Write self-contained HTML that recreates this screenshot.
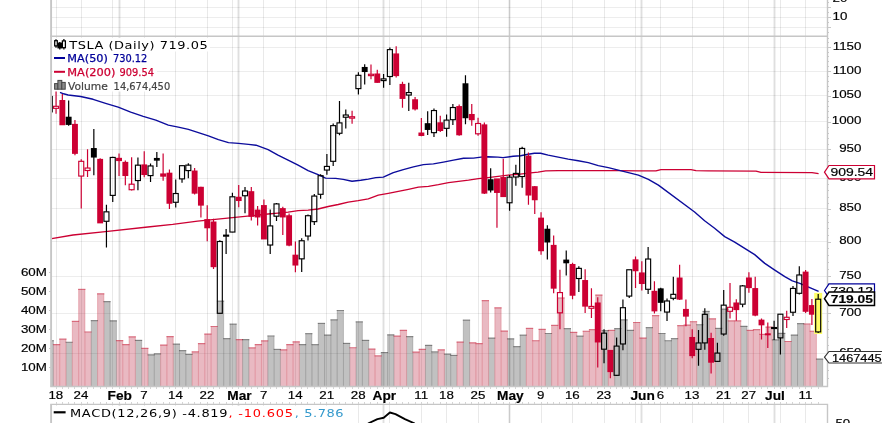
<!DOCTYPE html>
<html><head><meta charset="utf-8"><title>TSLA Daily Chart</title>
<style>html,body{margin:0;padding:0;background:#fff}svg{display:block}</style></head>
<body>
<svg width="882" height="423" viewBox="0 0 882 423">
<rect width="882" height="423" fill="#fff"/>
<path d="M56.5 0V423 M81.5 0V423 M112.5 0V423 M144.5 0V423 M175.5 0V423 M207.5 0V423 M232.5 0V423 M263.5 0V423 M295.5 0V423 M326.5 0V423 M358.5 0V423 M389.5 0V423 M421.5 0V423 M446.5 0V423 M478.5 0V423 M509.5 0V423 M541.5 0V423 M572.5 0V423 M604.5 0V423 M635.5 0V423 M660.5 0V423 M692.5 0V423 M723.5 0V423 M748.5 0V423 M780.5 0V423 M805.5 0V423" stroke="rgba(0,0,0,0.085)" stroke-width="1" fill="none" shape-rendering="crispEdges"/>
<path d="M119.5 0V423 M238.5 0V423 M383.5 0V423 M509.5 0V423 M641.5 0V423 M774.5 0V423" stroke="rgba(0,0,0,0.125)" stroke-width="1.9" fill="none"/>
<path d="M51.5 7.5H827.5 M51.5 17.5H827.5 M51.5 27.5H827.5 M51.5 47.5H827.5 M51.5 71.5H827.5 M51.5 95.5H827.5 M51.5 121.5H827.5 M51.5 149.5H827.5 M51.5 178.5H827.5 M51.5 208.5H827.5 M51.5 241.5H827.5 M51.5 276.5H827.5 M51.5 313.5H827.5 M51.5 353.5H827.5" stroke="rgba(0,0,0,0.07)" stroke-width="1" fill="none" shape-rendering="crispEdges"/>
<rect x="0" y="387" width="882" height="17" fill="#fff"/>
<rect x="0" y="0" width="51" height="423" fill="#fff"/>
<rect x="828" y="0" width="54" height="423" fill="#fff"/>
<clipPath id="cp"><rect x="51.5" y="36.5" width="776.0" height="350.0"/></clipPath>
<g clip-path="url(#cp)">
<rect x="47.10" y="340.33" width="6.30" height="46.17" fill="rgba(0,0,0,0.245)"/>
<rect x="53.40" y="344.13" width="6.31" height="42.37" fill="rgba(182,22,52,0.3)"/>
<rect x="59.71" y="338.81" width="6.31" height="47.69" fill="rgba(182,22,52,0.3)"/>
<rect x="66.01" y="341.85" width="6.31" height="44.65" fill="rgba(0,0,0,0.245)"/>
<rect x="72.32" y="320.95" width="6.31" height="65.55" fill="rgba(182,22,52,0.3)"/>
<rect x="78.63" y="289.03" width="6.31" height="97.47" fill="rgba(182,22,52,0.3)"/>
<rect x="84.93" y="331.59" width="6.31" height="54.91" fill="rgba(182,22,52,0.3)"/>
<rect x="91.24" y="320.19" width="6.31" height="66.31" fill="rgba(0,0,0,0.245)"/>
<rect x="97.54" y="293.40" width="6.31" height="93.10" fill="rgba(182,22,52,0.3)"/>
<rect x="103.85" y="301.19" width="6.31" height="85.31" fill="rgba(0,0,0,0.245)"/>
<rect x="110.16" y="320.38" width="6.31" height="66.12" fill="rgba(0,0,0,0.245)"/>
<rect x="116.46" y="340.14" width="6.31" height="46.36" fill="rgba(182,22,52,0.3)"/>
<rect x="122.77" y="344.13" width="6.31" height="42.37" fill="rgba(182,22,52,0.3)"/>
<rect x="129.07" y="336.53" width="6.31" height="49.97" fill="rgba(182,22,52,0.3)"/>
<rect x="135.38" y="339.95" width="6.31" height="46.55" fill="rgba(0,0,0,0.245)"/>
<rect x="141.69" y="347.93" width="6.31" height="38.57" fill="rgba(182,22,52,0.3)"/>
<rect x="147.99" y="354.39" width="6.31" height="32.11" fill="rgba(0,0,0,0.245)"/>
<rect x="154.30" y="353.44" width="6.31" height="33.06" fill="rgba(0,0,0,0.245)"/>
<rect x="160.60" y="344.70" width="6.31" height="41.80" fill="rgba(182,22,52,0.3)"/>
<rect x="166.91" y="336.15" width="6.31" height="50.35" fill="rgba(182,22,52,0.3)"/>
<rect x="173.22" y="343.75" width="6.31" height="42.75" fill="rgba(0,0,0,0.245)"/>
<rect x="179.52" y="350.21" width="6.31" height="36.29" fill="rgba(0,0,0,0.245)"/>
<rect x="185.83" y="354.01" width="6.31" height="32.49" fill="rgba(0,0,0,0.245)"/>
<rect x="192.14" y="351.54" width="6.31" height="34.96" fill="rgba(182,22,52,0.3)"/>
<rect x="198.44" y="343.18" width="6.31" height="43.32" fill="rgba(182,22,52,0.3)"/>
<rect x="204.75" y="333.68" width="6.31" height="52.82" fill="rgba(182,22,52,0.3)"/>
<rect x="211.05" y="326.08" width="6.31" height="60.42" fill="rgba(182,22,52,0.3)"/>
<rect x="217.36" y="300.81" width="6.31" height="85.69" fill="rgba(0,0,0,0.245)"/>
<rect x="223.67" y="338.24" width="6.31" height="48.26" fill="rgba(0,0,0,0.245)"/>
<rect x="229.97" y="323.80" width="6.31" height="62.70" fill="rgba(0,0,0,0.245)"/>
<rect x="236.28" y="339.19" width="6.31" height="47.31" fill="rgba(182,22,52,0.3)"/>
<rect x="242.58" y="339.19" width="6.31" height="47.31" fill="rgba(0,0,0,0.245)"/>
<rect x="248.89" y="347.55" width="6.31" height="38.95" fill="rgba(182,22,52,0.3)"/>
<rect x="255.20" y="344.13" width="6.31" height="42.37" fill="rgba(182,22,52,0.3)"/>
<rect x="261.50" y="340.52" width="6.31" height="45.98" fill="rgba(182,22,52,0.3)"/>
<rect x="267.81" y="335.58" width="6.31" height="50.92" fill="rgba(0,0,0,0.245)"/>
<rect x="274.12" y="349.07" width="6.31" height="37.43" fill="rgba(0,0,0,0.245)"/>
<rect x="280.42" y="349.45" width="6.31" height="37.05" fill="rgba(182,22,52,0.3)"/>
<rect x="286.73" y="344.13" width="6.31" height="42.37" fill="rgba(182,22,52,0.3)"/>
<rect x="293.03" y="341.47" width="6.31" height="45.03" fill="rgba(182,22,52,0.3)"/>
<rect x="299.34" y="344.13" width="6.31" height="42.37" fill="rgba(0,0,0,0.245)"/>
<rect x="305.65" y="333.30" width="6.31" height="53.20" fill="rgba(0,0,0,0.245)"/>
<rect x="311.95" y="344.32" width="6.31" height="42.18" fill="rgba(0,0,0,0.245)"/>
<rect x="318.26" y="323.04" width="6.31" height="63.46" fill="rgba(0,0,0,0.245)"/>
<rect x="324.56" y="334.63" width="6.31" height="51.87" fill="rgba(0,0,0,0.245)"/>
<rect x="330.87" y="319.43" width="6.31" height="67.07" fill="rgba(0,0,0,0.245)"/>
<rect x="337.18" y="310.12" width="6.31" height="76.38" fill="rgba(0,0,0,0.245)"/>
<rect x="343.48" y="342.99" width="6.31" height="43.51" fill="rgba(0,0,0,0.245)"/>
<rect x="349.79" y="347.36" width="6.31" height="39.14" fill="rgba(182,22,52,0.3)"/>
<rect x="356.10" y="321.52" width="6.31" height="64.98" fill="rgba(0,0,0,0.245)"/>
<rect x="362.40" y="339.95" width="6.31" height="46.55" fill="rgba(0,0,0,0.245)"/>
<rect x="368.71" y="348.69" width="6.31" height="37.81" fill="rgba(182,22,52,0.3)"/>
<rect x="375.01" y="355.53" width="6.31" height="30.97" fill="rgba(182,22,52,0.3)"/>
<rect x="381.32" y="352.11" width="6.31" height="34.39" fill="rgba(0,0,0,0.245)"/>
<rect x="387.63" y="334.44" width="6.31" height="52.06" fill="rgba(0,0,0,0.245)"/>
<rect x="393.93" y="335.77" width="6.31" height="50.73" fill="rgba(182,22,52,0.3)"/>
<rect x="400.24" y="329.88" width="6.31" height="56.62" fill="rgba(182,22,52,0.3)"/>
<rect x="406.54" y="336.15" width="6.31" height="50.35" fill="rgba(0,0,0,0.245)"/>
<rect x="412.85" y="351.73" width="6.31" height="34.77" fill="rgba(182,22,52,0.3)"/>
<rect x="419.16" y="348.88" width="6.31" height="37.62" fill="rgba(182,22,52,0.3)"/>
<rect x="425.46" y="344.89" width="6.31" height="41.61" fill="rgba(0,0,0,0.245)"/>
<rect x="431.77" y="351.54" width="6.31" height="34.96" fill="rgba(0,0,0,0.245)"/>
<rect x="438.08" y="349.45" width="6.31" height="37.05" fill="rgba(182,22,52,0.3)"/>
<rect x="444.38" y="353.82" width="6.31" height="32.68" fill="rgba(0,0,0,0.245)"/>
<rect x="450.69" y="354.96" width="6.31" height="31.54" fill="rgba(0,0,0,0.245)"/>
<rect x="456.99" y="341.66" width="6.31" height="44.84" fill="rgba(182,22,52,0.3)"/>
<rect x="463.30" y="319.81" width="6.31" height="66.69" fill="rgba(0,0,0,0.245)"/>
<rect x="469.61" y="342.42" width="6.31" height="44.08" fill="rgba(182,22,52,0.3)"/>
<rect x="475.91" y="343.18" width="6.31" height="43.32" fill="rgba(182,22,52,0.3)"/>
<rect x="482.22" y="300.24" width="6.31" height="86.26" fill="rgba(182,22,52,0.3)"/>
<rect x="488.52" y="337.67" width="6.31" height="48.83" fill="rgba(0,0,0,0.245)"/>
<rect x="494.83" y="307.46" width="6.31" height="79.04" fill="rgba(182,22,52,0.3)"/>
<rect x="501.14" y="330.64" width="6.31" height="55.86" fill="rgba(182,22,52,0.3)"/>
<rect x="507.44" y="338.43" width="6.31" height="48.07" fill="rgba(0,0,0,0.245)"/>
<rect x="513.75" y="346.22" width="6.31" height="40.28" fill="rgba(0,0,0,0.245)"/>
<rect x="520.05" y="334.82" width="6.31" height="51.68" fill="rgba(0,0,0,0.245)"/>
<rect x="526.36" y="327.98" width="6.31" height="58.52" fill="rgba(182,22,52,0.3)"/>
<rect x="532.67" y="340.33" width="6.31" height="46.17" fill="rgba(182,22,52,0.3)"/>
<rect x="538.97" y="328.93" width="6.31" height="57.57" fill="rgba(182,22,52,0.3)"/>
<rect x="545.28" y="333.11" width="6.31" height="53.39" fill="rgba(0,0,0,0.245)"/>
<rect x="551.59" y="324.94" width="6.31" height="61.56" fill="rgba(182,22,52,0.3)"/>
<rect x="557.89" y="297.58" width="6.31" height="88.92" fill="rgba(182,22,52,0.3)"/>
<rect x="564.20" y="328.17" width="6.31" height="58.33" fill="rgba(0,0,0,0.245)"/>
<rect x="570.50" y="331.97" width="6.31" height="54.53" fill="rgba(182,22,52,0.3)"/>
<rect x="576.81" y="335.77" width="6.31" height="50.73" fill="rgba(0,0,0,0.245)"/>
<rect x="583.12" y="330.83" width="6.31" height="55.67" fill="rgba(182,22,52,0.3)"/>
<rect x="589.42" y="329.31" width="6.31" height="57.19" fill="rgba(182,22,52,0.3)"/>
<rect x="595.73" y="294.73" width="6.31" height="91.77" fill="rgba(182,22,52,0.3)"/>
<rect x="602.03" y="330.26" width="6.31" height="56.24" fill="rgba(0,0,0,0.245)"/>
<rect x="608.34" y="330.07" width="6.31" height="56.43" fill="rgba(182,22,52,0.3)"/>
<rect x="614.65" y="328.17" width="6.31" height="58.33" fill="rgba(0,0,0,0.245)"/>
<rect x="620.95" y="319.43" width="6.31" height="67.07" fill="rgba(0,0,0,0.245)"/>
<rect x="627.26" y="329.88" width="6.31" height="56.62" fill="rgba(0,0,0,0.245)"/>
<rect x="633.57" y="322.09" width="6.31" height="64.41" fill="rgba(182,22,52,0.3)"/>
<rect x="639.87" y="337.67" width="6.31" height="48.83" fill="rgba(182,22,52,0.3)"/>
<rect x="646.18" y="327.22" width="6.31" height="59.28" fill="rgba(0,0,0,0.245)"/>
<rect x="652.48" y="315.25" width="6.31" height="71.25" fill="rgba(182,22,52,0.3)"/>
<rect x="658.79" y="333.11" width="6.31" height="53.39" fill="rgba(0,0,0,0.245)"/>
<rect x="665.10" y="340.33" width="6.31" height="46.17" fill="rgba(0,0,0,0.245)"/>
<rect x="671.40" y="338.24" width="6.31" height="48.26" fill="rgba(0,0,0,0.245)"/>
<rect x="677.71" y="325.32" width="6.31" height="61.18" fill="rgba(182,22,52,0.3)"/>
<rect x="684.01" y="324.75" width="6.31" height="61.75" fill="rgba(182,22,52,0.3)"/>
<rect x="690.32" y="321.33" width="6.31" height="65.17" fill="rgba(182,22,52,0.3)"/>
<rect x="696.63" y="324.37" width="6.31" height="62.13" fill="rgba(0,0,0,0.245)"/>
<rect x="702.93" y="311.07" width="6.31" height="75.43" fill="rgba(0,0,0,0.245)"/>
<rect x="709.24" y="318.48" width="6.31" height="68.02" fill="rgba(182,22,52,0.3)"/>
<rect x="715.55" y="327.98" width="6.31" height="58.52" fill="rgba(0,0,0,0.245)"/>
<rect x="721.85" y="308.79" width="6.31" height="77.71" fill="rgba(0,0,0,0.245)"/>
<rect x="728.16" y="320.57" width="6.31" height="65.93" fill="rgba(182,22,52,0.3)"/>
<rect x="734.46" y="320.57" width="6.31" height="65.93" fill="rgba(182,22,52,0.3)"/>
<rect x="740.77" y="325.89" width="6.31" height="60.61" fill="rgba(0,0,0,0.245)"/>
<rect x="747.08" y="330.07" width="6.31" height="56.43" fill="rgba(182,22,52,0.3)"/>
<rect x="753.38" y="329.31" width="6.31" height="57.19" fill="rgba(182,22,52,0.3)"/>
<rect x="759.69" y="334.06" width="6.31" height="52.44" fill="rgba(182,22,52,0.3)"/>
<rect x="765.99" y="326.65" width="6.31" height="59.85" fill="rgba(182,22,52,0.3)"/>
<rect x="772.30" y="339.38" width="6.31" height="47.12" fill="rgba(0,0,0,0.245)"/>
<rect x="778.61" y="332.92" width="6.31" height="53.58" fill="rgba(0,0,0,0.245)"/>
<rect x="784.91" y="341.09" width="6.31" height="45.41" fill="rgba(182,22,52,0.3)"/>
<rect x="791.22" y="334.63" width="6.31" height="51.87" fill="rgba(0,0,0,0.245)"/>
<rect x="797.52" y="323.23" width="6.31" height="63.27" fill="rgba(0,0,0,0.245)"/>
<rect x="803.83" y="323.61" width="6.31" height="62.89" fill="rgba(182,22,52,0.3)"/>
<rect x="810.14" y="330.83" width="6.31" height="55.67" fill="rgba(182,22,52,0.3)"/>
<rect x="816.44" y="358.63" width="6.30" height="27.87" fill="rgba(0,0,0,0.245)"/>
<path d="M59.71 338.81V386.5 M66.01 338.81V386.5 M72.32 320.95V386.5 M78.63 289.03V386.5 M84.93 289.03V386.5 M97.54 293.40V386.5 M103.85 293.40V386.5 M122.77 340.14V386.5 M129.07 336.53V386.5 M135.38 336.53V386.5 M147.99 347.93V386.5 M160.60 344.70V386.5 M166.91 336.15V386.5 M173.22 336.15V386.5 M192.14 351.54V386.5 M198.44 343.18V386.5 M204.75 333.68V386.5 M211.05 326.08V386.5 M255.20 344.13V386.5 M261.50 340.52V386.5 M286.73 344.13V386.5 M293.03 341.47V386.5 M299.34 341.47V386.5 M375.01 348.69V386.5 M400.24 329.88V386.5 M406.54 329.88V386.5 M419.16 348.88V386.5 M438.08 349.45V386.5 M444.38 349.45V386.5 M456.99 341.66V386.5 M475.91 342.42V386.5 M482.22 300.24V386.5 M488.52 300.24V386.5 M494.83 307.46V386.5 M501.14 307.46V386.5 M507.44 330.64V386.5 M526.36 327.98V386.5 M532.67 327.98V386.5 M538.97 328.93V386.5 M545.28 328.93V386.5 M551.59 324.94V386.5 M557.89 297.58V386.5 M564.20 297.58V386.5 M576.81 331.97V386.5 M583.12 330.83V386.5 M589.42 329.31V386.5 M595.73 294.73V386.5 M602.03 294.73V386.5 M608.34 330.07V386.5 M633.57 322.09V386.5 M639.87 322.09V386.5 M652.48 315.25V386.5 M658.79 315.25V386.5 M677.71 325.32V386.5 M684.01 324.75V386.5 M690.32 321.33V386.5 M696.63 321.33V386.5 M715.55 318.48V386.5 M734.46 320.57V386.5 M740.77 320.57V386.5 M753.38 329.31V386.5 M759.69 329.31V386.5 M765.99 326.65V386.5 M772.30 326.65V386.5 M810.14 323.61V386.5 M816.44 330.83V386.5" stroke="rgba(200,40,60,0.24)" stroke-width="1.1" fill="none"/>
<path d="M47.10 340.33V386.5 M53.40 340.33V386.5 M91.24 320.19V386.5 M110.16 301.19V386.5 M116.46 320.38V386.5 M141.69 339.95V386.5 M154.30 353.44V386.5 M179.52 343.75V386.5 M185.83 350.21V386.5 M217.36 300.81V386.5 M223.67 300.81V386.5 M229.97 323.80V386.5 M236.28 323.80V386.5 M242.58 339.19V386.5 M248.89 339.19V386.5 M267.81 335.58V386.5 M274.12 335.58V386.5 M280.42 349.07V386.5 M305.65 333.30V386.5 M311.95 333.30V386.5 M318.26 323.04V386.5 M324.56 323.04V386.5 M330.87 319.43V386.5 M337.18 310.12V386.5 M343.48 310.12V386.5 M349.79 342.99V386.5 M356.10 321.52V386.5 M362.40 321.52V386.5 M368.71 339.95V386.5 M381.32 352.11V386.5 M387.63 334.44V386.5 M393.93 334.44V386.5 M412.85 336.15V386.5 M425.46 344.89V386.5 M431.77 344.89V386.5 M450.69 353.82V386.5 M463.30 319.81V386.5 M469.61 319.81V386.5 M513.75 338.43V386.5 M520.05 334.82V386.5 M570.50 328.17V386.5 M614.65 328.17V386.5 M620.95 319.43V386.5 M627.26 319.43V386.5 M646.18 327.22V386.5 M665.10 333.11V386.5 M671.40 338.24V386.5 M702.93 311.07V386.5 M709.24 311.07V386.5 M721.85 308.79V386.5 M728.16 308.79V386.5 M747.08 325.89V386.5 M778.61 332.92V386.5 M784.91 332.92V386.5 M791.22 334.63V386.5 M797.52 323.23V386.5 M803.83 323.23V386.5 M822.74 358.63V386.5" stroke="rgba(0,0,0,0.16)" stroke-width="1.1" fill="none"/>
<path d="M52.90 344.53H60.21 M59.21 339.21H66.51 M71.82 321.35H79.13 M78.13 289.43H85.43 M84.43 331.99H91.74 M97.04 293.80H104.35 M115.96 340.54H123.27 M122.27 344.53H129.57 M128.57 336.93H135.88 M141.19 348.33H148.49 M160.10 345.10H167.41 M166.41 336.55H173.72 M191.64 351.94H198.94 M197.94 343.58H205.25 M204.25 334.08H211.55 M210.55 326.48H217.86 M235.78 339.59H243.08 M248.39 347.95H255.70 M254.70 344.53H262.00 M261.00 340.92H268.31 M279.92 349.85H287.23 M286.23 344.53H293.53 M292.53 341.87H299.84 M349.29 347.76H356.60 M368.21 349.09H375.51 M374.51 355.93H381.82 M393.43 336.17H400.74 M399.74 330.28H407.04 M412.35 352.13H419.66 M418.66 349.28H425.96 M437.58 349.85H444.88 M456.49 342.06H463.80 M469.11 342.82H476.41 M475.41 343.58H482.72 M481.72 300.64H489.02 M494.33 307.86H501.64 M500.64 331.04H507.94 M525.86 328.38H533.17 M532.17 340.73H539.47 M538.47 329.33H545.78 M551.09 325.34H558.39 M557.39 297.98H564.70 M570.00 332.37H577.31 M582.62 331.23H589.92 M588.92 329.71H596.23 M595.23 295.13H602.53 M607.84 330.47H615.15 M633.07 322.49H640.37 M639.37 338.07H646.68 M651.98 315.65H659.29 M677.21 325.72H684.51 M683.51 325.15H690.82 M689.82 321.73H697.13 M708.74 318.88H716.05 M727.66 320.97H734.96 M733.96 320.97H741.27 M746.58 330.47H753.88 M752.88 329.71H760.19 M759.19 334.46H766.49 M765.49 327.05H772.80 M784.41 341.49H791.72 M803.33 324.01H810.64 M809.64 331.23H816.94" stroke="rgba(200,30,55,0.5)" stroke-width="1.2" fill="none"/>
<path d="M46.60 340.73H53.90 M65.51 342.25H72.82 M90.74 320.59H98.04 M103.35 301.59H110.66 M109.66 320.78H116.96 M134.88 340.35H142.19 M147.49 354.79H154.80 M153.80 353.84H161.10 M172.72 344.15H180.02 M179.02 350.61H186.33 M185.33 354.41H192.64 M216.86 301.21H224.17 M223.17 338.64H230.47 M229.47 324.20H236.78 M242.08 339.59H249.39 M267.31 335.98H274.62 M273.62 349.47H280.92 M298.84 344.53H306.15 M305.15 333.70H312.45 M311.45 344.72H318.76 M317.76 323.44H325.06 M324.06 335.03H331.37 M330.37 319.83H337.68 M336.68 310.52H343.98 M342.98 343.39H350.29 M355.60 321.92H362.90 M361.90 340.35H369.21 M380.82 352.51H388.13 M387.13 334.84H394.43 M406.04 336.55H413.35 M424.96 345.29H432.27 M431.27 351.94H438.58 M443.88 354.22H451.19 M450.19 355.36H457.49 M462.80 320.21H470.11 M488.02 338.07H495.33 M506.94 338.83H514.25 M513.25 346.62H520.55 M519.55 335.22H526.86 M544.78 333.51H552.09 M563.70 328.57H571.00 M576.31 336.17H583.62 M601.53 330.66H608.84 M614.15 328.57H621.45 M620.45 319.83H627.76 M626.76 330.28H634.07 M645.68 327.62H652.98 M658.29 333.51H665.60 M664.60 340.73H671.90 M670.90 338.64H678.21 M696.13 324.77H703.43 M702.43 311.47H709.74 M715.05 328.38H722.35 M721.35 309.19H728.66 M740.27 326.29H747.58 M771.80 339.78H779.11 M778.11 333.32H785.41 M790.72 335.03H798.02 M797.02 323.63H804.33 M815.94 359.03H823.24" stroke="rgba(0,0,0,0.33)" stroke-width="1.2" fill="none"/>
</g>
<path d="M51.7 238.6 L73.0 235.0 L105.4 231.7 L147.8 227.0 L172.7 224.4 L197.6 221.2 L222.6 218.7 L247.5 216.2 L268.0 214.0 L278.0 213.2 L288.1 212.2 L298.1 210.7 L308.1 210.2 L318.1 209.0 L328.2 206.5 L338.2 204.5 L348.2 202.2 L358.2 200.7 L368.3 198.9 L378.3 195.2 L388.3 193.4 L398.3 191.4 L408.4 189.4 L418.4 187.2 L428.4 186.4 L438.4 184.7 L448.5 182.7 L458.5 181.4 L468.5 180.2 L478.5 178.6 L483.5 178.1 L488.0 177.6 L498.0 176.4 L508.1 175.1 L518.1 174.4 L528.1 173.1 L538.1 172.1 L545.6 170.9 L558.2 170.6 L588.3 170.6 L618.3 170.6 L638.4 170.9 L655.9 170.9 L660.9 169.6 L676.0 169.6 L691.0 169.6 L696.0 170.6 L708.1 170.9 L756.0 171.2 L761.0 172.4 L812.0 172.6 L818.6 173.6" stroke="#cc0033" stroke-width="1.3" fill="none" stroke-linejoin="round"/>
<path d="M60.0 92.3 L63.5 93.8 L68.1 95.0 L80.6 96.5 L93.1 99.3 L105.6 103.3 L118.2 107.1 L130.7 112.1 L143.2 116.3 L155.8 120.1 L168.3 125.1 L178.3 127.1 L188.4 129.4 L198.4 132.6 L208.4 135.9 L218.4 139.6 L228.5 142.6 L238.5 143.4 L248.5 144.4 L256.0 145.2 L268.1 149.7 L278.0 155.1 L288.1 160.1 L298.1 165.1 L308.1 170.6 L318.1 174.6 L325.6 178.1 L335.7 178.4 L343.2 179.4 L352.0 181.2 L360.7 180.2 L368.3 179.1 L375.8 177.6 L383.3 177.1 L393.3 172.6 L403.3 169.6 L413.4 166.9 L423.4 164.6 L433.4 163.9 L443.4 162.1 L453.5 160.1 L463.5 158.3 L473.5 158.1 L481.0 157.1 L488.0 156.8 L498.0 157.1 L503.0 157.6 L513.1 156.3 L520.6 155.8 L528.1 154.3 L534.4 153.3 L540.6 153.3 L548.2 155.1 L558.2 157.1 L568.2 159.1 L578.2 160.8 L588.3 162.6 L598.3 165.6 L608.3 167.6 L618.3 170.1 L628.4 172.6 L638.4 175.1 L648.4 179.4 L658.4 185.1 L694.6 212.0 L704.6 220.8 L714.6 228.3 L724.7 236.6 L734.7 242.1 L744.7 248.3 L754.7 254.6 L764.8 263.4 L774.8 270.1 L784.8 276.7 L792.3 280.9 L799.8 283.4 L807.4 286.7 L818.6 291.4" stroke="#0c0c9c" stroke-width="1.4" fill="none" stroke-linejoin="round"/>
<g clip-path="url(#cp)">
<path d="M49.75 95.24V96.46M49.75 111.86V115.29" stroke="#000000" stroke-width="1.2"/>
<rect x="47.25" y="96.46" width="5" height="15.40" fill="none" stroke="#000000" stroke-width="1.15"/>
<path d="M56.05 85.75V106.30M56.05 108.34V113.87" stroke="#cc0033" stroke-width="1.2"/>
<rect x="53.55" y="106.30" width="5" height="2.03" fill="none" stroke="#cc0033" stroke-width="1.15"/>
<path d="M62.35 93.88V125.10" stroke="#cc0033" stroke-width="1.2"/>
<rect x="59.40" y="100.01" width="5.9" height="25.24" fill="#cc0033"/>
<path d="M68.65 100.54V125.64" stroke="#000000" stroke-width="1.2"/>
<rect x="65.70" y="116.72" width="5.9" height="8.19" fill="#000000"/>
<path d="M74.95 119.98V155.29" stroke="#cc0033" stroke-width="1.2"/>
<rect x="72.00" y="123.88" width="5.9" height="29.98" fill="#cc0033"/>
<path d="M81.24 159.29V161.31M81.24 176.06V208.60" stroke="#cc0033" stroke-width="1.2"/>
<rect x="78.74" y="161.31" width="5" height="14.75" fill="none" stroke="#cc0033" stroke-width="1.15"/>
<path d="M87.54 149.20V168.04M87.54 170.49V176.98" stroke="#cc0033" stroke-width="1.2"/>
<rect x="85.04" y="168.04" width="5" height="2.46" fill="none" stroke="#cc0033" stroke-width="1.15"/>
<path d="M93.84 129.05V175.32" stroke="#000000" stroke-width="1.2"/>
<rect x="90.89" y="148.04" width="5.9" height="9.52" fill="#000000"/>
<path d="M100.14 158.21V222.93" stroke="#cc0033" stroke-width="1.2"/>
<rect x="97.19" y="158.88" width="5.9" height="64.49" fill="#cc0033"/>
<path d="M106.44 204.81V211.83M106.44 221.28V247.40" stroke="#000000" stroke-width="1.2"/>
<rect x="103.94" y="211.83" width="5" height="9.45" fill="none" stroke="#000000" stroke-width="1.15"/>
<path d="M112.74 156.72V157.45M112.74 195.39V201.98" stroke="#000000" stroke-width="1.2"/>
<rect x="110.24" y="157.45" width="5" height="37.94" fill="none" stroke="#000000" stroke-width="1.15"/>
<path d="M119.04 153.47V175.92" stroke="#cc0033" stroke-width="1.2"/>
<rect x="116.09" y="157.82" width="5.9" height="3.27" fill="#cc0033"/>
<path d="M125.34 160.45V185.23" stroke="#cc0033" stroke-width="1.2"/>
<rect x="122.39" y="161.86" width="5.9" height="14.17" fill="#cc0033"/>
<path d="M131.63 157.29V184.19M131.63 189.71V190.61" stroke="#cc0033" stroke-width="1.2"/>
<rect x="129.13" y="184.19" width="5" height="5.53" fill="none" stroke="#cc0033" stroke-width="1.15"/>
<path d="M137.93 157.58V165.17M137.93 180.54V190.22" stroke="#000000" stroke-width="1.2"/>
<rect x="135.43" y="165.17" width="5" height="15.37" fill="none" stroke="#000000" stroke-width="1.15"/>
<path d="M144.23 151.17V177.27" stroke="#cc0033" stroke-width="1.2"/>
<rect x="141.28" y="164.40" width="5.9" height="10.63" fill="#cc0033"/>
<path d="M150.53 163.45V165.94M150.53 175.60V181.99" stroke="#000000" stroke-width="1.2"/>
<rect x="148.03" y="165.94" width="5" height="9.66" fill="none" stroke="#000000" stroke-width="1.15"/>
<path d="M156.83 152.01V167.10" stroke="#000000" stroke-width="1.2"/>
<rect x="153.88" y="157.94" width="5.9" height="2.72" fill="#000000"/>
<path d="M163.13 153.41V180.85" stroke="#cc0033" stroke-width="1.2"/>
<rect x="160.18" y="173.42" width="5.9" height="3.26" fill="#cc0033"/>
<path d="M169.43 169.46V209.08" stroke="#cc0033" stroke-width="1.2"/>
<rect x="166.48" y="172.68" width="5.9" height="31.07" fill="#cc0033"/>
<path d="M175.73 179.55V193.52M175.73 202.28V207.54" stroke="#000000" stroke-width="1.2"/>
<rect x="173.23" y="193.52" width="5" height="8.76" fill="none" stroke="#000000" stroke-width="1.15"/>
<path d="M182.02 165.36V165.69M182.02 178.89V182.84" stroke="#000000" stroke-width="1.2"/>
<rect x="179.52" y="165.69" width="5" height="13.19" fill="none" stroke="#000000" stroke-width="1.15"/>
<path d="M188.32 163.37V165.13M188.32 170.58V178.17" stroke="#000000" stroke-width="1.2"/>
<rect x="185.82" y="165.13" width="5" height="5.45" fill="none" stroke="#000000" stroke-width="1.15"/>
<path d="M194.62 167.98V194.54" stroke="#cc0033" stroke-width="1.2"/>
<rect x="191.67" y="170.55" width="5.9" height="23.11" fill="#cc0033"/>
<path d="M200.92 186.76V217.39" stroke="#cc0033" stroke-width="1.2"/>
<rect x="197.97" y="186.79" width="5.9" height="18.85" fill="#cc0033"/>
<path d="M207.22 205.30V241.28" stroke="#cc0033" stroke-width="1.2"/>
<rect x="204.27" y="219.12" width="5.9" height="9.16" fill="#cc0033"/>
<path d="M213.52 218.87V269.12" stroke="#cc0033" stroke-width="1.2"/>
<rect x="210.57" y="221.51" width="5.9" height="45.66" fill="#cc0033"/>
<path d="M219.82 240.36V241.50M219.82 313.29V313.59" stroke="#000000" stroke-width="1.2"/>
<rect x="217.32" y="241.50" width="5" height="71.79" fill="none" stroke="#000000" stroke-width="1.15"/>
<path d="M226.11 229.11V235.16M226.11 236.16V253.94" stroke="#000000" stroke-width="1.2"/>
<rect x="223.61" y="235.16" width="5" height="1.00" fill="none" stroke="#000000" stroke-width="1.15"/>
<path d="M232.41 192.85V196.79M232.41 232.05V232.25" stroke="#000000" stroke-width="1.2"/>
<rect x="229.91" y="196.79" width="5" height="35.26" fill="none" stroke="#000000" stroke-width="1.15"/>
<path d="M238.71 184.95V207.14" stroke="#cc0033" stroke-width="1.2"/>
<rect x="235.76" y="196.75" width="5.9" height="4.28" fill="#cc0033"/>
<path d="M245.01 187.00V191.00M245.01 195.75V213.15" stroke="#000000" stroke-width="1.2"/>
<rect x="242.51" y="191.00" width="5" height="4.75" fill="none" stroke="#000000" stroke-width="1.15"/>
<path d="M251.31 187.02V220.61" stroke="#cc0033" stroke-width="1.2"/>
<rect x="248.36" y="191.18" width="5.9" height="25.64" fill="#cc0033"/>
<path d="M257.61 205.97V225.42" stroke="#cc0033" stroke-width="1.2"/>
<rect x="254.66" y="209.59" width="5.9" height="7.87" fill="#cc0033"/>
<path d="M263.91 199.44V238.96" stroke="#cc0033" stroke-width="1.2"/>
<rect x="260.96" y="205.06" width="5.9" height="34.39" fill="#cc0033"/>
<path d="M270.21 209.53V225.91M270.21 245.02V254.10" stroke="#000000" stroke-width="1.2"/>
<rect x="267.71" y="225.91" width="5" height="19.11" fill="none" stroke="#000000" stroke-width="1.15"/>
<path d="M276.50 202.90V203.90M276.50 216.20V220.99" stroke="#000000" stroke-width="1.2"/>
<rect x="274.00" y="203.90" width="5" height="12.30" fill="none" stroke="#000000" stroke-width="1.15"/>
<path d="M282.80 206.72V235.12" stroke="#cc0033" stroke-width="1.2"/>
<rect x="279.85" y="208.11" width="5.9" height="9.34" fill="#cc0033"/>
<path d="M289.10 213.45V246.21" stroke="#cc0033" stroke-width="1.2"/>
<rect x="286.15" y="215.24" width="5.9" height="30.40" fill="#cc0033"/>
<path d="M295.40 241.55V272.31" stroke="#cc0033" stroke-width="1.2"/>
<rect x="292.45" y="254.67" width="5.9" height="10.87" fill="#cc0033"/>
<path d="M301.70 238.30V240.75M301.70 258.85V271.94" stroke="#000000" stroke-width="1.2"/>
<rect x="299.20" y="240.75" width="5" height="18.10" fill="none" stroke="#000000" stroke-width="1.15"/>
<path d="M308.00 214.59V215.72M308.00 236.02V240.51" stroke="#000000" stroke-width="1.2"/>
<rect x="305.50" y="215.72" width="5" height="20.30" fill="none" stroke="#000000" stroke-width="1.15"/>
<path d="M314.30 193.99V196.07M314.30 221.65V225.06" stroke="#000000" stroke-width="1.2"/>
<rect x="311.80" y="196.07" width="5" height="25.57" fill="none" stroke="#000000" stroke-width="1.15"/>
<path d="M320.60 174.23V175.69M320.60 194.30V198.67" stroke="#000000" stroke-width="1.2"/>
<rect x="318.10" y="175.69" width="5" height="18.61" fill="none" stroke="#000000" stroke-width="1.15"/>
<path d="M326.89 153.95V166.43M326.89 170.04V174.68" stroke="#000000" stroke-width="1.2"/>
<rect x="324.39" y="166.43" width="5" height="3.61" fill="none" stroke="#000000" stroke-width="1.15"/>
<path d="M333.19 123.56V125.65M333.19 161.31V166.09" stroke="#000000" stroke-width="1.2"/>
<rect x="330.69" y="125.65" width="5" height="35.66" fill="none" stroke="#000000" stroke-width="1.15"/>
<path d="M339.49 101.03V122.89M339.49 133.27V135.21" stroke="#000000" stroke-width="1.2"/>
<rect x="336.99" y="122.89" width="5" height="10.38" fill="none" stroke="#000000" stroke-width="1.15"/>
<path d="M345.79 109.44V115.00M345.79 117.22V128.45" stroke="#000000" stroke-width="1.2"/>
<rect x="343.29" y="115.00" width="5" height="2.22" fill="none" stroke="#000000" stroke-width="1.15"/>
<path d="M352.09 110.85V116.74M352.09 118.14V123.85" stroke="#cc0033" stroke-width="1.2"/>
<rect x="349.59" y="116.74" width="5" height="1.40" fill="none" stroke="#cc0033" stroke-width="1.15"/>
<path d="M358.39 72.36V75.32M358.39 88.61V94.43" stroke="#000000" stroke-width="1.2"/>
<rect x="355.89" y="75.32" width="5" height="13.29" fill="none" stroke="#000000" stroke-width="1.15"/>
<path d="M364.69 64.18V84.59" stroke="#000000" stroke-width="1.2"/>
<rect x="361.74" y="66.95" width="5.9" height="5.09" fill="#000000"/>
<path d="M370.99 64.57V74.26M370.99 75.65V79.18" stroke="#cc0033" stroke-width="1.2"/>
<rect x="368.49" y="74.26" width="5" height="1.38" fill="none" stroke="#cc0033" stroke-width="1.15"/>
<path d="M377.28 69.80V82.83" stroke="#cc0033" stroke-width="1.2"/>
<rect x="374.33" y="73.48" width="5.9" height="9.38" fill="#cc0033"/>
<path d="M383.58 73.89V78.89M383.58 80.59V87.83" stroke="#000000" stroke-width="1.2"/>
<rect x="381.08" y="78.89" width="5" height="1.70" fill="none" stroke="#000000" stroke-width="1.15"/>
<path d="M389.88 47.54V49.62M389.88 76.53V84.88" stroke="#000000" stroke-width="1.2"/>
<rect x="387.38" y="49.62" width="5" height="26.90" fill="none" stroke="#000000" stroke-width="1.15"/>
<path d="M396.18 46.16V77.55" stroke="#cc0033" stroke-width="1.2"/>
<rect x="393.23" y="53.42" width="5.9" height="22.68" fill="#cc0033"/>
<path d="M402.48 81.66V107.77" stroke="#cc0033" stroke-width="1.2"/>
<rect x="399.53" y="83.91" width="5.9" height="15.02" fill="#cc0033"/>
<path d="M408.78 82.86V92.57M408.78 95.04V110.99" stroke="#000000" stroke-width="1.2"/>
<rect x="406.28" y="92.57" width="5" height="2.47" fill="none" stroke="#000000" stroke-width="1.15"/>
<path d="M415.08 97.06V110.52" stroke="#cc0033" stroke-width="1.2"/>
<rect x="412.13" y="99.24" width="5.9" height="10.18" fill="#cc0033"/>
<path d="M421.37 117.89V136.18" stroke="#cc0033" stroke-width="1.2"/>
<rect x="418.42" y="132.52" width="5.9" height="3.45" fill="#cc0033"/>
<path d="M427.67 111.17V135.10" stroke="#000000" stroke-width="1.2"/>
<rect x="424.72" y="123.18" width="5.9" height="6.77" fill="#000000"/>
<path d="M433.97 108.53V110.55M433.97 132.65V137.03" stroke="#000000" stroke-width="1.2"/>
<rect x="431.47" y="110.55" width="5" height="22.10" fill="none" stroke="#000000" stroke-width="1.15"/>
<path d="M440.27 115.64V132.04" stroke="#cc0033" stroke-width="1.2"/>
<rect x="437.32" y="122.29" width="5.9" height="8.72" fill="#cc0033"/>
<path d="M446.57 114.47V120.12M446.57 128.32V136.86" stroke="#000000" stroke-width="1.2"/>
<rect x="444.07" y="120.12" width="5" height="8.21" fill="none" stroke="#000000" stroke-width="1.15"/>
<path d="M452.87 104.00V107.53M452.87 119.71V124.92" stroke="#000000" stroke-width="1.2"/>
<rect x="450.37" y="107.53" width="5" height="12.17" fill="none" stroke="#000000" stroke-width="1.15"/>
<path d="M459.17 104.49V135.85" stroke="#cc0033" stroke-width="1.2"/>
<rect x="456.22" y="106.07" width="5.9" height="29.21" fill="#cc0033"/>
<path d="M465.47 75.13V124.33" stroke="#000000" stroke-width="1.2"/>
<rect x="462.52" y="83.28" width="5.9" height="34.94" fill="#000000"/>
<path d="M471.76 104.05V125.64" stroke="#cc0033" stroke-width="1.2"/>
<rect x="468.81" y="113.98" width="5.9" height="6.23" fill="#cc0033"/>
<path d="M478.06 117.81V123.47M478.06 133.80V135.82" stroke="#cc0033" stroke-width="1.2"/>
<rect x="475.56" y="123.47" width="5" height="10.33" fill="none" stroke="#cc0033" stroke-width="1.15"/>
<path d="M484.36 122.41V193.99" stroke="#cc0033" stroke-width="1.2"/>
<rect x="481.41" y="124.37" width="5.9" height="69.25" fill="#cc0033"/>
<path d="M490.66 168.27V192.54" stroke="#000000" stroke-width="1.2"/>
<rect x="487.71" y="179.23" width="5.9" height="11.28" fill="#000000"/>
<path d="M496.96 178.89V227.67" stroke="#cc0033" stroke-width="1.2"/>
<rect x="494.01" y="178.40" width="5.9" height="14.55" fill="#cc0033"/>
<path d="M503.26 158.78V197.06" stroke="#cc0033" stroke-width="1.2"/>
<rect x="500.31" y="177.05" width="5.9" height="20.04" fill="#cc0033"/>
<path d="M509.56 175.11V177.14M509.56 202.77V210.77" stroke="#000000" stroke-width="1.2"/>
<rect x="507.06" y="177.14" width="5" height="25.64" fill="none" stroke="#000000" stroke-width="1.15"/>
<path d="M515.86 164.73V173.40M515.86 177.00V185.72" stroke="#000000" stroke-width="1.2"/>
<rect x="513.36" y="173.40" width="5" height="3.59" fill="none" stroke="#000000" stroke-width="1.15"/>
<path d="M522.15 146.81V148.43M522.15 176.54V187.72" stroke="#000000" stroke-width="1.2"/>
<rect x="519.65" y="148.43" width="5" height="28.11" fill="none" stroke="#000000" stroke-width="1.15"/>
<path d="M528.45 152.39V204.69" stroke="#cc0033" stroke-width="1.2"/>
<rect x="525.50" y="155.64" width="5.9" height="39.90" fill="#cc0033"/>
<path d="M534.75 186.08V213.89" stroke="#cc0033" stroke-width="1.2"/>
<rect x="531.80" y="186.18" width="5.9" height="14.06" fill="#cc0033"/>
<path d="M541.05 212.29V254.80" stroke="#cc0033" stroke-width="1.2"/>
<rect x="538.10" y="217.64" width="5.9" height="33.59" fill="#cc0033"/>
<path d="M547.35 225.29V259.55" stroke="#000000" stroke-width="1.2"/>
<rect x="544.40" y="228.73" width="5.9" height="13.76" fill="#000000"/>
<path d="M553.65 235.51V293.16" stroke="#cc0033" stroke-width="1.2"/>
<rect x="550.70" y="244.88" width="5.9" height="43.79" fill="#cc0033"/>
<path d="M559.95 269.75V292.57M559.95 312.83V329.13" stroke="#cc0033" stroke-width="1.2"/>
<rect x="557.45" y="292.57" width="5" height="20.26" fill="none" stroke="#cc0033" stroke-width="1.15"/>
<path d="M566.24 250.56V275.49" stroke="#000000" stroke-width="1.2"/>
<rect x="563.29" y="259.59" width="5.9" height="3.70" fill="#000000"/>
<path d="M572.54 262.67V299.17" stroke="#cc0033" stroke-width="1.2"/>
<rect x="569.59" y="263.98" width="5.9" height="31.76" fill="#cc0033"/>
<path d="M578.84 266.36V268.38M578.84 278.50V291.94" stroke="#000000" stroke-width="1.2"/>
<rect x="576.34" y="268.38" width="5" height="10.12" fill="none" stroke="#000000" stroke-width="1.15"/>
<path d="M585.14 269.16V312.97" stroke="#cc0033" stroke-width="1.2"/>
<rect x="582.19" y="280.04" width="5.9" height="26.59" fill="#cc0033"/>
<path d="M591.44 288.17V306.43M591.44 308.26V318.12" stroke="#cc0033" stroke-width="1.2"/>
<rect x="588.94" y="306.43" width="5" height="1.83" fill="none" stroke="#cc0033" stroke-width="1.15"/>
<path d="M597.74 297.32V367.52" stroke="#cc0033" stroke-width="1.2"/>
<rect x="594.79" y="302.48" width="5.9" height="39.99" fill="#cc0033"/>
<path d="M604.04 329.16V333.16M604.04 349.19V363.25" stroke="#000000" stroke-width="1.2"/>
<rect x="601.54" y="333.16" width="5" height="16.03" fill="none" stroke="#000000" stroke-width="1.15"/>
<path d="M610.34 350.09V378.15" stroke="#cc0033" stroke-width="1.2"/>
<rect x="607.39" y="349.91" width="5.9" height="22.22" fill="#cc0033"/>
<path d="M616.63 337.61V346.10M616.63 375.32V376.04" stroke="#000000" stroke-width="1.2"/>
<rect x="614.13" y="346.10" width="5" height="29.22" fill="none" stroke="#000000" stroke-width="1.15"/>
<path d="M622.93 299.48V307.70M622.93 343.98V350.30" stroke="#000000" stroke-width="1.2"/>
<rect x="620.43" y="307.70" width="5" height="36.27" fill="none" stroke="#000000" stroke-width="1.15"/>
<path d="M629.23 269.65V269.77M629.23 296.08V298.10" stroke="#000000" stroke-width="1.2"/>
<rect x="626.73" y="269.77" width="5" height="26.31" fill="none" stroke="#000000" stroke-width="1.15"/>
<path d="M635.53 256.41V288.00" stroke="#cc0033" stroke-width="1.2"/>
<rect x="632.58" y="259.34" width="5.9" height="11.90" fill="#cc0033"/>
<path d="M641.83 261.13V290.42" stroke="#cc0033" stroke-width="1.2"/>
<rect x="638.88" y="272.43" width="5.9" height="11.60" fill="#cc0033"/>
<path d="M648.13 246.98V259.03M648.13 289.29V293.89" stroke="#000000" stroke-width="1.2"/>
<rect x="645.63" y="259.03" width="5" height="30.25" fill="none" stroke="#000000" stroke-width="1.15"/>
<path d="M654.43 281.35V313.40" stroke="#cc0033" stroke-width="1.2"/>
<rect x="651.48" y="290.83" width="5.9" height="20.55" fill="#cc0033"/>
<path d="M660.73 287.73V311.26" stroke="#000000" stroke-width="1.2"/>
<rect x="657.78" y="288.36" width="5.9" height="14.49" fill="#000000"/>
<path d="M667.02 298.50V300.98M667.02 312.06V321.09" stroke="#000000" stroke-width="1.2"/>
<rect x="664.52" y="300.98" width="5" height="11.08" fill="none" stroke="#000000" stroke-width="1.15"/>
<path d="M673.32 276.69V294.34M673.32 298.30V300.33" stroke="#000000" stroke-width="1.2"/>
<rect x="670.82" y="294.34" width="5" height="3.96" fill="none" stroke="#000000" stroke-width="1.15"/>
<path d="M679.62 264.85V300.00" stroke="#cc0033" stroke-width="1.2"/>
<rect x="676.67" y="277.53" width="5.9" height="22.12" fill="#cc0033"/>
<path d="M685.92 299.61V326.19" stroke="#cc0033" stroke-width="1.2"/>
<rect x="682.97" y="308.92" width="5.9" height="7.71" fill="#cc0033"/>
<path d="M692.22 329.21V358.24" stroke="#cc0033" stroke-width="1.2"/>
<rect x="689.27" y="336.97" width="5.9" height="19.15" fill="#cc0033"/>
<path d="M698.52 329.92V342.96M698.52 349.32V365.65" stroke="#000000" stroke-width="1.2"/>
<rect x="696.02" y="342.96" width="5" height="6.35" fill="none" stroke="#000000" stroke-width="1.15"/>
<path d="M704.82 308.26V314.36M704.82 342.90V349.66" stroke="#000000" stroke-width="1.2"/>
<rect x="702.32" y="314.36" width="5" height="28.54" fill="none" stroke="#000000" stroke-width="1.15"/>
<path d="M711.11 332.69V373.41" stroke="#cc0033" stroke-width="1.2"/>
<rect x="708.16" y="338.00" width="5.9" height="24.71" fill="#cc0033"/>
<path d="M717.41 342.77V353.08M717.41 361.37V361.97" stroke="#000000" stroke-width="1.2"/>
<rect x="714.91" y="353.08" width="5" height="8.29" fill="none" stroke="#000000" stroke-width="1.15"/>
<path d="M723.71 290.00V305.15M723.71 334.03V335.63" stroke="#000000" stroke-width="1.2"/>
<rect x="721.21" y="305.15" width="5" height="28.88" fill="none" stroke="#000000" stroke-width="1.15"/>
<path d="M730.01 283.12V307.30M730.01 311.29V318.55" stroke="#cc0033" stroke-width="1.2"/>
<rect x="727.51" y="307.30" width="5" height="3.99" fill="none" stroke="#cc0033" stroke-width="1.15"/>
<path d="M736.31 299.13V320.81" stroke="#cc0033" stroke-width="1.2"/>
<rect x="733.36" y="302.48" width="5.9" height="7.63" fill="#cc0033"/>
<path d="M742.61 285.11V285.89M742.61 304.17V307.30" stroke="#000000" stroke-width="1.2"/>
<rect x="740.11" y="285.89" width="5" height="18.28" fill="none" stroke="#000000" stroke-width="1.15"/>
<path d="M748.91 272.19V292.79" stroke="#cc0033" stroke-width="1.2"/>
<rect x="745.96" y="277.47" width="5.9" height="10.64" fill="#cc0033"/>
<path d="M755.21 276.65V316.19" stroke="#cc0033" stroke-width="1.2"/>
<rect x="752.26" y="288.07" width="5.9" height="27.56" fill="#cc0033"/>
<path d="M761.50 318.58V339.62" stroke="#cc0033" stroke-width="1.2"/>
<rect x="758.55" y="319.64" width="5.9" height="5.69" fill="#cc0033"/>
<path d="M767.80 322.57V347.91" stroke="#cc0033" stroke-width="1.2"/>
<rect x="764.85" y="333.30" width="5.9" height="2.00" fill="#cc0033"/>
<path d="M774.10 320.77V327.53M774.10 328.53V339.99" stroke="#000000" stroke-width="1.2"/>
<rect x="771.60" y="327.53" width="5" height="1.00" fill="none" stroke="#000000" stroke-width="1.15"/>
<path d="M780.40 314.02V314.20M780.40 337.87V354.55" stroke="#000000" stroke-width="1.2"/>
<rect x="777.90" y="314.20" width="5" height="23.67" fill="none" stroke="#000000" stroke-width="1.15"/>
<path d="M786.70 310.77V317.28M786.70 319.49V327.90" stroke="#cc0033" stroke-width="1.2"/>
<rect x="784.20" y="317.28" width="5" height="2.21" fill="none" stroke="#cc0033" stroke-width="1.15"/>
<path d="M793.00 286.01V288.44M793.00 312.24V316.12" stroke="#000000" stroke-width="1.2"/>
<rect x="790.50" y="288.44" width="5" height="23.81" fill="none" stroke="#000000" stroke-width="1.15"/>
<path d="M799.30 266.14V274.98M799.30 293.30V294.40" stroke="#000000" stroke-width="1.2"/>
<rect x="796.80" y="274.98" width="5" height="18.33" fill="none" stroke="#000000" stroke-width="1.15"/>
<path d="M805.60 270.08V312.92" stroke="#cc0033" stroke-width="1.2"/>
<rect x="802.65" y="271.62" width="5.9" height="40.16" fill="#cc0033"/>
<path d="M811.89 299.00V325.11" stroke="#cc0033" stroke-width="1.2"/>
<rect x="808.94" y="305.08" width="5.9" height="9.62" fill="#cc0033"/>
<rect x="814.19" y="292.91" width="8" height="41.09" fill="#ffff66"/>
<path d="M818.19 293.91V299.20M818.19 331.89V333.00" stroke="#000000" stroke-width="1.2"/>
<rect x="815.69" y="299.20" width="5" height="32.70" fill="none" stroke="#000000" stroke-width="1.15"/>
</g>
<path d="M51.1 0V386.5M51.1 423V404.5" stroke="#c6c6c6" stroke-width="1.9" fill="none"/>
<path d="M50.2 386.5H827.5V0M50.2 36.3H827.5" stroke="#c6c6c6" stroke-width="1.4" fill="none"/>
<path d="M50.2 404.4H827.5V423" stroke="#c6c6c6" stroke-width="1.4" fill="none"/>
<path d="M56.5 387V389M56.5 402V404 M62.5 387V389M62.5 402V404 M68.5 387V389M68.5 402V404 M74.5 387V389M74.5 402V404 M81.5 387V389M81.5 402V404 M87.5 387V389M87.5 402V404 M93.5 387V389M93.5 402V404 M100.5 387V389M100.5 402V404 M106.5 387V389M106.5 402V404 M112.5 387V389M112.5 402V404 M119.5 387V389M119.5 402V404 M125.5 387V389M125.5 402V404 M131.5 387V389M131.5 402V404 M137.5 387V389M137.5 402V404 M144.5 387V389M144.5 402V404 M150.5 387V389M150.5 402V404 M156.5 387V389M156.5 402V404 M163.5 387V389M163.5 402V404 M169.5 387V389M169.5 402V404 M175.5 387V389M175.5 402V404 M182.5 387V389M182.5 402V404 M188.5 387V389M188.5 402V404 M194.5 387V389M194.5 402V404 M200.5 387V389M200.5 402V404 M207.5 387V389M207.5 402V404 M213.5 387V389M213.5 402V404 M219.5 387V389M219.5 402V404 M226.5 387V389M226.5 402V404 M232.5 387V389M232.5 402V404 M238.5 387V389M238.5 402V404 M245.5 387V389M245.5 402V404 M251.5 387V389M251.5 402V404 M257.5 387V389M257.5 402V404 M263.5 387V389M263.5 402V404 M270.5 387V389M270.5 402V404 M276.5 387V389M276.5 402V404 M282.5 387V389M282.5 402V404 M289.5 387V389M289.5 402V404 M295.5 387V389M295.5 402V404 M301.5 387V389M301.5 402V404 M307.5 387V389M307.5 402V404 M314.5 387V389M314.5 402V404 M320.5 387V389M320.5 402V404 M326.5 387V389M326.5 402V404 M333.5 387V389M333.5 402V404 M339.5 387V389M339.5 402V404 M345.5 387V389M345.5 402V404 M352.5 387V389M352.5 402V404 M358.5 387V389M358.5 402V404 M364.5 387V389M364.5 402V404 M370.5 387V389M370.5 402V404 M377.5 387V389M377.5 402V404 M383.5 387V389M383.5 402V404 M389.5 387V389M389.5 402V404 M396.5 387V389M396.5 402V404 M402.5 387V389M402.5 402V404 M408.5 387V389M408.5 402V404 M415.5 387V389M415.5 402V404 M421.5 387V389M421.5 402V404 M427.5 387V389M427.5 402V404 M433.5 387V389M433.5 402V404 M440.5 387V389M440.5 402V404 M446.5 387V389M446.5 402V404 M452.5 387V389M452.5 402V404 M459.5 387V389M459.5 402V404 M465.5 387V389M465.5 402V404 M471.5 387V389M471.5 402V404 M478.5 387V389M478.5 402V404 M484.5 387V389M484.5 402V404 M490.5 387V389M490.5 402V404 M496.5 387V389M496.5 402V404 M503.5 387V389M503.5 402V404 M509.5 387V389M509.5 402V404 M515.5 387V389M515.5 402V404 M522.5 387V389M522.5 402V404 M528.5 387V389M528.5 402V404 M534.5 387V389M534.5 402V404 M541.5 387V389M541.5 402V404 M547.5 387V389M547.5 402V404 M553.5 387V389M553.5 402V404 M559.5 387V389M559.5 402V404 M566.5 387V389M566.5 402V404 M572.5 387V389M572.5 402V404 M578.5 387V389M578.5 402V404 M585.5 387V389M585.5 402V404 M591.5 387V389M591.5 402V404 M597.5 387V389M597.5 402V404 M604.5 387V389M604.5 402V404 M610.5 387V389M610.5 402V404 M616.5 387V389M616.5 402V404 M622.5 387V389M622.5 402V404 M629.5 387V389M629.5 402V404 M635.5 387V389M635.5 402V404 M641.5 387V389M641.5 402V404 M648.5 387V389M648.5 402V404 M654.5 387V389M654.5 402V404 M660.5 387V389M660.5 402V404 M667.5 387V389M667.5 402V404 M673.5 387V389M673.5 402V404 M679.5 387V389M679.5 402V404 M685.5 387V389M685.5 402V404 M692.5 387V389M692.5 402V404 M698.5 387V389M698.5 402V404 M704.5 387V389M704.5 402V404 M711.5 387V389M711.5 402V404 M717.5 387V389M717.5 402V404 M723.5 387V389M723.5 402V404 M730.5 387V389M730.5 402V404 M736.5 387V389M736.5 402V404 M742.5 387V389M742.5 402V404 M748.5 387V389M748.5 402V404 M755.5 387V389M755.5 402V404 M761.5 387V389M761.5 402V404 M767.5 387V389M767.5 402V404 M774.5 387V389M774.5 402V404 M780.5 387V389M780.5 402V404 M786.5 387V389M786.5 402V404 M792.5 387V389M792.5 402V404 M799.5 387V389M799.5 402V404 M805.5 387V389M805.5 402V404 M811.5 387V389M811.5 402V404 M818.5 387V389M818.5 402V404" stroke="#d4d4d4" stroke-width="1" fill="none" shape-rendering="crispEdges"/>
<path d="M827.5 378.5h1.5 M827.5 370.5h1.5 M827.5 361.5h1.5 M827.5 353.5h3 M827.5 345.5h1.5 M827.5 337.5h1.5 M827.5 329.5h1.5 M827.5 321.5h1.5 M827.5 313.5h3 M827.5 305.5h1.5 M827.5 298.5h1.5 M827.5 291.5h1.5 M827.5 283.5h1.5 M827.5 276.5h3 M827.5 269.5h1.5 M827.5 262.5h1.5 M827.5 255.5h1.5 M827.5 248.5h1.5 M827.5 242.5h3 M827.5 235.5h1.5 M827.5 228.5h1.5 M827.5 222.5h1.5 M827.5 215.5h1.5 M827.5 209.5h3 M827.5 203.5h1.5 M827.5 197.5h1.5 M827.5 190.5h1.5 M827.5 184.5h1.5 M827.5 178.5h3 M827.5 172.5h1.5 M827.5 167.5h1.5 M827.5 161.5h1.5 M827.5 155.5h1.5 M827.5 149.5h3 M827.5 144.5h1.5 M827.5 138.5h1.5 M827.5 133.5h1.5 M827.5 127.5h1.5 M827.5 122.5h3 M827.5 117.5h1.5 M827.5 111.5h1.5 M827.5 106.5h1.5 M827.5 101.5h1.5 M827.5 96.5h3 M827.5 91.5h1.5 M827.5 86.5h1.5 M827.5 81.5h1.5 M827.5 76.5h1.5 M827.5 71.5h3 M827.5 66.5h1.5 M827.5 61.5h1.5 M827.5 56.5h1.5 M827.5 52.5h1.5 M827.5 47.5h3 M827.5 42.5h1.5 M827.5 38.5h1.5 M827.5 7.5h3 M827.5 17.5h3 M827.5 27.5h3 M827.5 12.5h1.5 M827.5 22.5h1.5 M827.5 32.5h1.5 M827.5 2.5h1.5" stroke="#c8c8c8" stroke-width="1" fill="none" shape-rendering="crispEdges"/>
<text transform="translate(46.8,370.9) scale(1.13,1)" text-anchor="end" font-family="Liberation Sans, Arial, sans-serif" font-size="11.8px" fill="#000" stroke="#000" stroke-width="0.18">10M</text>
<text transform="translate(46.8,351.9) scale(1.13,1)" text-anchor="end" font-family="Liberation Sans, Arial, sans-serif" font-size="11.8px" fill="#000" stroke="#000" stroke-width="0.18">20M</text>
<text transform="translate(46.8,332.9) scale(1.13,1)" text-anchor="end" font-family="Liberation Sans, Arial, sans-serif" font-size="11.8px" fill="#000" stroke="#000" stroke-width="0.18">30M</text>
<text transform="translate(46.8,313.9) scale(1.13,1)" text-anchor="end" font-family="Liberation Sans, Arial, sans-serif" font-size="11.8px" fill="#000" stroke="#000" stroke-width="0.18">40M</text>
<text transform="translate(46.8,294.9) scale(1.13,1)" text-anchor="end" font-family="Liberation Sans, Arial, sans-serif" font-size="11.8px" fill="#000" stroke="#000" stroke-width="0.18">50M</text>
<text transform="translate(46.8,275.9) scale(1.13,1)" text-anchor="end" font-family="Liberation Sans, Arial, sans-serif" font-size="11.8px" fill="#000" stroke="#000" stroke-width="0.18">60M</text>
<path d="M48.5 367.5h3 M48.5 348.5h3 M48.5 329.5h3 M48.5 310.5h3 M48.5 291.5h3 M48.5 272.5h3" stroke="#c8c8c8" stroke-width="1" fill="none" shape-rendering="crispEdges"/>
<text transform="translate(861.4,50.1) scale(1.13,1)" text-anchor="end" font-family="Liberation Sans, Arial, sans-serif" font-size="11.8px" fill="#000" stroke="#000" stroke-width="0.18">1150</text>
<text transform="translate(861.4,74.1) scale(1.13,1)" text-anchor="end" font-family="Liberation Sans, Arial, sans-serif" font-size="11.8px" fill="#000" stroke="#000" stroke-width="0.18">1100</text>
<text transform="translate(861.4,98.1) scale(1.13,1)" text-anchor="end" font-family="Liberation Sans, Arial, sans-serif" font-size="11.8px" fill="#000" stroke="#000" stroke-width="0.18">1050</text>
<text transform="translate(861.4,124.1) scale(1.13,1)" text-anchor="end" font-family="Liberation Sans, Arial, sans-serif" font-size="11.8px" fill="#000" stroke="#000" stroke-width="0.18">1000</text>
<text transform="translate(861.4,152.1) scale(1.13,1)" text-anchor="end" font-family="Liberation Sans, Arial, sans-serif" font-size="11.8px" fill="#000" stroke="#000" stroke-width="0.18">950</text>
<text transform="translate(861.4,181.1) scale(1.13,1)" text-anchor="end" font-family="Liberation Sans, Arial, sans-serif" font-size="11.8px" fill="#000" stroke="#000" stroke-width="0.18">900</text>
<text transform="translate(861.4,211.1) scale(1.13,1)" text-anchor="end" font-family="Liberation Sans, Arial, sans-serif" font-size="11.8px" fill="#000" stroke="#000" stroke-width="0.18">850</text>
<text transform="translate(861.4,244.1) scale(1.13,1)" text-anchor="end" font-family="Liberation Sans, Arial, sans-serif" font-size="11.8px" fill="#000" stroke="#000" stroke-width="0.18">800</text>
<text transform="translate(861.4,279.1) scale(1.13,1)" text-anchor="end" font-family="Liberation Sans, Arial, sans-serif" font-size="11.8px" fill="#000" stroke="#000" stroke-width="0.18">750</text>
<text transform="translate(861.4,316.1) scale(1.13,1)" text-anchor="end" font-family="Liberation Sans, Arial, sans-serif" font-size="11.8px" fill="#000" stroke="#000" stroke-width="0.18">700</text>
<text transform="translate(861.4,356.1) scale(1.13,1)" text-anchor="end" font-family="Liberation Sans, Arial, sans-serif" font-size="11.8px" fill="#000" stroke="#000" stroke-width="0.18">650</text>
<text transform="translate(832.6,20.4) scale(1.13,1)" text-anchor="start" font-family="Liberation Sans, Arial, sans-serif" font-size="11.8px" fill="#000" stroke="#000" stroke-width="0.18">10</text>
<text transform="translate(832.6,1.5) scale(1.13,1)" text-anchor="start" font-family="Liberation Sans, Arial, sans-serif" font-size="11.8px" fill="#000" stroke="#000" stroke-width="0.18">20</text>
<text transform="translate(835.4,427.0) scale(1.13,1)" text-anchor="start" font-family="Liberation Sans, Arial, sans-serif" font-size="11.8px" fill="#000" stroke="#000" stroke-width="0.18">50</text>
<text transform="translate(55.8,399.4) scale(1.13,1)" text-anchor="middle" font-family="Liberation Sans, Arial, sans-serif" font-size="11.8px" fill="#000" stroke="#000" stroke-width="0.18">18</text>
<text transform="translate(81.0,399.4) scale(1.13,1)" text-anchor="middle" font-family="Liberation Sans, Arial, sans-serif" font-size="11.8px" fill="#000" stroke="#000" stroke-width="0.18">24</text>
<text transform="translate(144.0,399.4) scale(1.13,1)" text-anchor="middle" font-family="Liberation Sans, Arial, sans-serif" font-size="11.8px" fill="#000" stroke="#000" stroke-width="0.18">7</text>
<text transform="translate(175.5,399.4) scale(1.13,1)" text-anchor="middle" font-family="Liberation Sans, Arial, sans-serif" font-size="11.8px" fill="#000" stroke="#000" stroke-width="0.18">14</text>
<text transform="translate(207.0,399.4) scale(1.13,1)" text-anchor="middle" font-family="Liberation Sans, Arial, sans-serif" font-size="11.8px" fill="#000" stroke="#000" stroke-width="0.18">22</text>
<text transform="translate(263.7,399.4) scale(1.13,1)" text-anchor="middle" font-family="Liberation Sans, Arial, sans-serif" font-size="11.8px" fill="#000" stroke="#000" stroke-width="0.18">7</text>
<text transform="translate(295.2,399.4) scale(1.13,1)" text-anchor="middle" font-family="Liberation Sans, Arial, sans-serif" font-size="11.8px" fill="#000" stroke="#000" stroke-width="0.18">14</text>
<text transform="translate(326.7,399.4) scale(1.13,1)" text-anchor="middle" font-family="Liberation Sans, Arial, sans-serif" font-size="11.8px" fill="#000" stroke="#000" stroke-width="0.18">21</text>
<text transform="translate(358.2,399.4) scale(1.13,1)" text-anchor="middle" font-family="Liberation Sans, Arial, sans-serif" font-size="11.8px" fill="#000" stroke="#000" stroke-width="0.18">28</text>
<text transform="translate(421.2,399.4) scale(1.13,1)" text-anchor="middle" font-family="Liberation Sans, Arial, sans-serif" font-size="11.8px" fill="#000" stroke="#000" stroke-width="0.18">11</text>
<text transform="translate(446.4,399.4) scale(1.13,1)" text-anchor="middle" font-family="Liberation Sans, Arial, sans-serif" font-size="11.8px" fill="#000" stroke="#000" stroke-width="0.18">18</text>
<text transform="translate(477.9,399.4) scale(1.13,1)" text-anchor="middle" font-family="Liberation Sans, Arial, sans-serif" font-size="11.8px" fill="#000" stroke="#000" stroke-width="0.18">25</text>
<text transform="translate(540.8,399.4) scale(1.13,1)" text-anchor="middle" font-family="Liberation Sans, Arial, sans-serif" font-size="11.8px" fill="#000" stroke="#000" stroke-width="0.18">9</text>
<text transform="translate(572.3,399.4) scale(1.13,1)" text-anchor="middle" font-family="Liberation Sans, Arial, sans-serif" font-size="11.8px" fill="#000" stroke="#000" stroke-width="0.18">16</text>
<text transform="translate(603.8,399.4) scale(1.13,1)" text-anchor="middle" font-family="Liberation Sans, Arial, sans-serif" font-size="11.8px" fill="#000" stroke="#000" stroke-width="0.18">23</text>
<text transform="translate(660.5,399.4) scale(1.13,1)" text-anchor="middle" font-family="Liberation Sans, Arial, sans-serif" font-size="11.8px" fill="#000" stroke="#000" stroke-width="0.18">6</text>
<text transform="translate(692.0,399.4) scale(1.13,1)" text-anchor="middle" font-family="Liberation Sans, Arial, sans-serif" font-size="11.8px" fill="#000" stroke="#000" stroke-width="0.18">13</text>
<text transform="translate(723.5,399.4) scale(1.13,1)" text-anchor="middle" font-family="Liberation Sans, Arial, sans-serif" font-size="11.8px" fill="#000" stroke="#000" stroke-width="0.18">21</text>
<text transform="translate(748.7,399.4) scale(1.13,1)" text-anchor="middle" font-family="Liberation Sans, Arial, sans-serif" font-size="11.8px" fill="#000" stroke="#000" stroke-width="0.18">27</text>
<text transform="translate(805.4,399.4) scale(1.13,1)" text-anchor="middle" font-family="Liberation Sans, Arial, sans-serif" font-size="11.8px" fill="#000" stroke="#000" stroke-width="0.18">11</text>
<text transform="translate(119.8,399.7) scale(1.03,1)" text-anchor="middle" font-family="Liberation Sans, Arial, sans-serif" font-size="13.3px" font-weight="bold" fill="#000" stroke="#000" stroke-width="0.18">Feb</text>
<text transform="translate(239.5,399.7) scale(1.03,1)" text-anchor="middle" font-family="Liberation Sans, Arial, sans-serif" font-size="13.3px" font-weight="bold" fill="#000" stroke="#000" stroke-width="0.18">Mar</text>
<text transform="translate(384.4,399.7) scale(1.03,1)" text-anchor="middle" font-family="Liberation Sans, Arial, sans-serif" font-size="13.3px" font-weight="bold" fill="#000" stroke="#000" stroke-width="0.18">Apr</text>
<text transform="translate(510.4,399.7) scale(1.03,1)" text-anchor="middle" font-family="Liberation Sans, Arial, sans-serif" font-size="13.3px" font-weight="bold" fill="#000" stroke="#000" stroke-width="0.18">May</text>
<text transform="translate(642.6,399.7) scale(1.03,1)" text-anchor="middle" font-family="Liberation Sans, Arial, sans-serif" font-size="13.3px" font-weight="bold" fill="#000" stroke="#000" stroke-width="0.18">Jun</text>
<text transform="translate(774.9,399.7) scale(1.03,1)" text-anchor="middle" font-family="Liberation Sans, Arial, sans-serif" font-size="13.3px" font-weight="bold" fill="#000" stroke="#000" stroke-width="0.18">Jul</text>
<path d="M824.5 172.2L829 165.5H874.5V178.9H829Z" fill="#fff" stroke="#cc0033" stroke-width="1.2"/>
<text transform="translate(851.8,176.4) scale(1.13,1)" text-anchor="middle" font-family="Liberation Sans, Arial, sans-serif" font-size="11.8px" textLength="37.70" lengthAdjust="spacingAndGlyphs" fill="#000" stroke="#000" stroke-width="0.18">909.54</text>
<path d="M824.5 290.5L829 283.8H874.5V297.2H829Z" fill="#fff" stroke="#000099" stroke-width="1.2"/>
<text transform="translate(851.8,294.7) scale(1.13,1)" text-anchor="middle" font-family="Liberation Sans, Arial, sans-serif" font-size="11.8px" textLength="37.70" lengthAdjust="spacingAndGlyphs" fill="#000" stroke="#000" stroke-width="0.18">730.12</text>
<path d="M824.5 298.7L829 292.0H874.5V305.4H829Z" fill="#fff" stroke="#000" stroke-width="1.5"/>
<text transform="translate(851.8,302.9) scale(1.13,1)" text-anchor="middle" font-family="Liberation Sans, Arial, sans-serif" font-size="11.8px" font-weight="bold" textLength="37.17" lengthAdjust="spacingAndGlyphs" fill="#000" stroke="#000" stroke-width="0.18">719.05</text>
<path d="M824.5 357.2L829 351.5H884V363H829Z" fill="#fff" stroke="#333" stroke-width="1.1"/>
<text transform="translate(832.0,361.9) scale(1.13,1)" text-anchor="start" font-family="Liberation Sans, Arial, sans-serif" font-size="11.8px" textLength="43.89" lengthAdjust="spacingAndGlyphs" fill="#000" stroke="#000" stroke-width="0.18">1467445</text>
<rect x="53" y="38" width="157" height="13.5" fill="#fff"/>
<rect x="53" y="51" width="104" height="27" fill="#fff"/>
<rect x="53" y="78" width="120" height="13.5" fill="#fff"/>
<g stroke="#000" stroke-width="1.25" fill="none"><path d="M56 39.3V47.8M59.8 42V49.5M63.9 39V49.5"/><rect x="54.7" y="40.7" width="2.6" height="5.2" fill="#fff"/><rect x="58" y="43.2" width="3.6" height="4.6" fill="#000"/><rect x="62.4" y="40.9" width="3" height="6.8" fill="#fff"/></g>
<text transform="translate(69.2,48.8) scale(1.2,1)" font-family="DejaVu Sans, Verdana, sans-serif" font-size="10.8px" textLength="115.42" lengthAdjust="spacing" fill="#000">TSLA (Daily) 719.05</text>
<path d="M54 58H65" stroke="#000099" stroke-width="2"/>
<text x="67.3" y="62.2" font-family="DejaVu Sans, Verdana, sans-serif" font-size="10.4px" textLength="40.6" lengthAdjust="spacingAndGlyphs" fill="#000099" stroke="#000099" stroke-width="0.25">MA(50)</text>
<text x="112.9" y="62.2" font-family="DejaVu Sans, Verdana, sans-serif" font-size="10.4px" textLength="34.4" lengthAdjust="spacingAndGlyphs" fill="#000099" stroke="#000099" stroke-width="0.25">730.12</text>
<path d="M54 71.8H65" stroke="#cc0033" stroke-width="2"/>
<text x="67.3" y="75.9" font-family="DejaVu Sans, Verdana, sans-serif" font-size="10.4px" textLength="48.2" lengthAdjust="spacingAndGlyphs" fill="#cc0033" stroke="#cc0033" stroke-width="0.25">MA(200)</text>
<text x="119.6" y="75.9" font-family="DejaVu Sans, Verdana, sans-serif" font-size="10.4px" textLength="34.4" lengthAdjust="spacingAndGlyphs" fill="#cc0033" stroke="#cc0033" stroke-width="0.25">909.54</text>
<g stroke="#444" stroke-width="1" fill="#8a8a8a"><rect x="54.6" y="83.6" width="3.3" height="5.6"/><rect x="57.9" y="80.4" width="3.9" height="8.8"/><rect x="61.8" y="82.4" width="3.4" height="6.8"/></g>
<text x="68" y="89.5" font-family="DejaVu Sans, Verdana, sans-serif" font-size="10.4px" textLength="39.8" lengthAdjust="spacingAndGlyphs" fill="#444" stroke="#444" stroke-width="0.2">Volume</text>
<text x="113.6" y="89.5" font-family="DejaVu Sans, Verdana, sans-serif" font-size="10.4px" textLength="56.6" lengthAdjust="spacingAndGlyphs" fill="#444" stroke="#444" stroke-width="0.2">14,674,450</text>
<rect x="53" y="406" width="292" height="17" fill="#fff"/>
<path d="M53.7 412.3H65.6" stroke="#000" stroke-width="2.2"/>
<text transform="translate(70,416.8) scale(1.2,1)" font-family="DejaVu Sans, Verdana, sans-serif" font-size="10.8px" fill="#000" textLength="131.25" lengthAdjust="spacing">MACD(12,26,9) -4.819</text>
<text transform="translate(228.5,416.8) scale(1.2,1)" font-family="DejaVu Sans, Verdana, sans-serif" font-size="10.8px" fill="#ff0000" textLength="53.75" lengthAdjust="spacing">, -10.605</text>
<text transform="translate(294.8,416.8) scale(1.2,1)" font-family="DejaVu Sans, Verdana, sans-serif" font-size="10.8px" fill="#3399cc" textLength="40.67" lengthAdjust="spacing">, 5.786</text>
<path d="M368 423.5L377.4 419.1L383.7 417.8L389.9 412.5L395.5 414.1L404.9 419.1L414.8 423.5" stroke="#000" stroke-width="1.9" fill="none" stroke-linejoin="round"/>
</svg>
</body></html>
